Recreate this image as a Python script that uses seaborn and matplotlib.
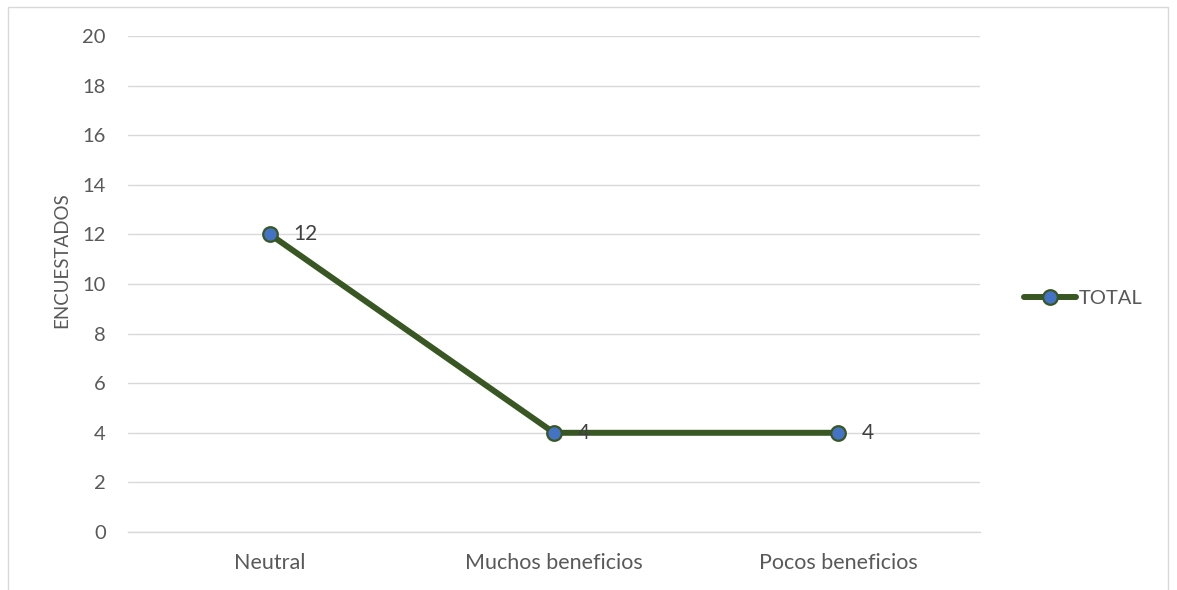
import matplotlib
matplotlib.use("Agg")
import matplotlib.pyplot as plt
import seaborn as sns
import pandas as pd
from matplotlib.patches import Rectangle
from matplotlib.lines import Line2D

categories = ["Neutral", "Muchos beneficios", "Pocos beneficios"]
total = [12, 4, 4]
y_ticks = [0, 2, 4, 6, 8, 10, 12, 14, 16, 18, 20]
series_name = "TOTAL"
y_label = "ENCUESTADOS"

sns.set_theme(style="white")
plt.rcParams["font.family"] = ["Lato", "DejaVu Sans"]

text_color = "#595959"
line_color = "#385723"
marker_color = "#4472C4"
grid_color = "#D9D9D9"

df = pd.DataFrame({"cat": categories, "val": total})

fig = plt.figure(figsize=(11.77, 5.90), dpi=100)
ax = fig.add_axes([128 / 1177, 1 - 532 / 590, (980 - 128) / 1177, (532 - 36) / 590])

sns.lineplot(data=df, x="cat", y="val", ax=ax, color=line_color, linewidth=4.3,
             marker="o", markersize=10.5, markerfacecolor=marker_color,
             markeredgecolor=line_color, markeredgewidth=1.6, sort=False, zorder=3)

ax.set_xlim(-0.5, len(categories) - 0.5)
ax.set_ylim(min(y_ticks), max(y_ticks))
ax.set_yticks(y_ticks)
ax.yaxis.grid(True, color=grid_color, linewidth=1.0)
ax.set_axisbelow(True)
for side in ["top", "right", "left"]:
    ax.spines[side].set_visible(False)
ax.spines["bottom"].set_color(grid_color)
ax.spines["bottom"].set_linewidth(1.0)
ax.tick_params(axis="y", length=0, labelsize=14.5, labelcolor=text_color, pad=16)
ax.tick_params(axis="x", length=0, labelsize=15.5, labelcolor=text_color, pad=15)
ax.set_xlabel("")
ax.set_ylabel(y_label, fontsize=13.5, color=text_color)
ax.yaxis.set_label_coords(-0.068, 0.548)

for i, v in enumerate(total):
    ax.annotate(str(v), (i, v), xytext=(17, 0), textcoords="offset points",
                ha="left", va="center", fontsize=15, color="#404040")

handle = Line2D([], [], color=line_color, linewidth=4.3, marker="o", markersize=10.5,
                markerfacecolor=marker_color, markeredgecolor=line_color,
                markeredgewidth=1.6)
fig.legend([handle], [series_name], loc="center left",
           bbox_to_anchor=(1006 / 1177, 1 - 298 / 590), frameon=False,
           handlelength=2.6, handletextpad=0.1, prop={"size": 14.5},
           labelcolor=text_color)

fig.patches.append(Rectangle((8 / 1177, -0.05), (1168 - 8) / 1177, 1.05 - 7 / 590,
                             transform=fig.transFigure, fill=False,
                             edgecolor="#D9D9D9", linewidth=1.0))

fig.savefig("out.png", dpi=100, facecolor="white")
